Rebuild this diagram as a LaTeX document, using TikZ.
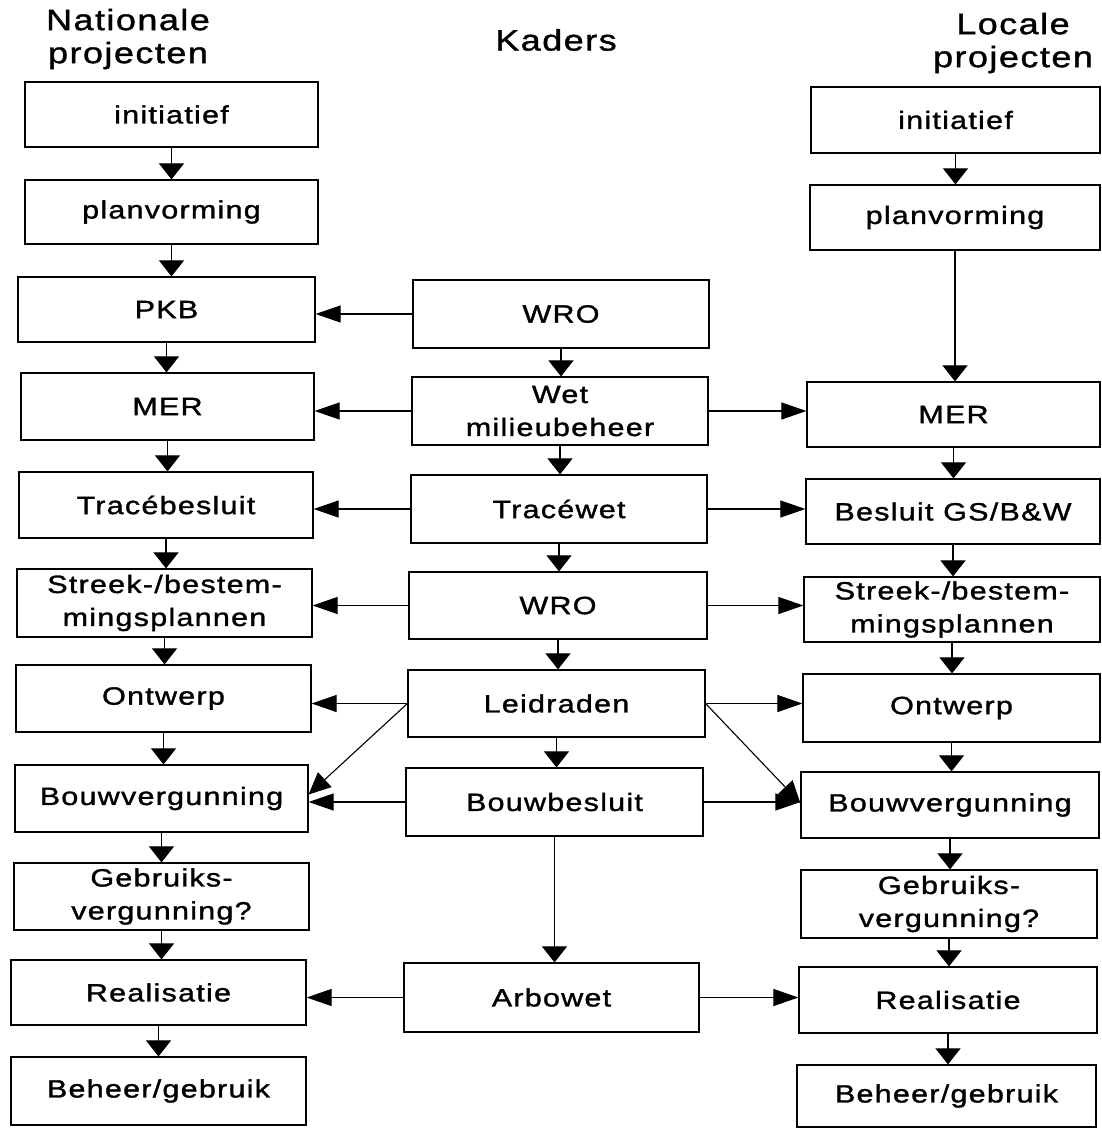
\documentclass[tikz,border=0pt]{standalone}
\usepackage{fontspec}
\setmainfont{Liberation Sans}[FakeStretch=1.22, LetterSpace=5, FakeBold=1.3]
\usetikzlibrary{arrows.meta}
\tikzset{
  box/.style={draw, line width=1.2pt, inner sep=2pt, align=center,
    font=\fontsize{25}{33}\selectfont},
  hdr/.style={align=center, inner sep=0pt, font=\fontsize{29.5}{33}\selectfont},
  varr/.style={line width=1.1pt, -{Triangle[length=16pt,width=25pt]}},
  harr/.style={line width=1.1pt, -{Triangle[length=25pt,width=17pt]}},
  darr/.style={line width=1.1pt, -{Triangle[length=22pt,width=20pt]}}
}
\newcommand\mybox[6]{\node[box, minimum width={#4-#2}, minimum height={#5-#3}] (#1) at ({(#2+#4)/2},{(#3+#5)/2}) {#6};}
\begin{document}
\begin{tikzpicture}[x=1pt,y=-1pt]
\useasboundingbox (0,0) rectangle (1101,1129);
% headers
\node[hdr] (hN) at (128,39) {Nationale\\projecten};
\node[hdr] (hK) at (556,40) {Kaders};
\node[hdr] (hL) at (1013,43) {Locale\\projecten};
% left column
\mybox{Li}{25}{82}{318}{147}{initiatief}
\mybox{Lp}{25}{180}{318}{244}{planvorming}
\mybox{Lpkb}{18}{277}{315}{342}{PKB}
\mybox{Lmer}{21}{373}{314}{440}{MER}
\mybox{Ltr}{19}{472}{313}{538}{Tracébesluit}
\mybox{Lst}{17}{569}{312}{637}{Streek-/bestem-\\mingsplannen}
\mybox{Lont}{16}{665}{311}{732}{Ontwerp}
\mybox{Lbv}{15}{765}{308}{832}{Bouwvergunning}
\mybox{Lgb}{14}{863}{309}{930}{Gebruiks-\\vergunning?}
\mybox{Lre}{11}{960}{306}{1025}{Realisatie}
\mybox{Lbh}{11}{1057}{306}{1125}{Beheer/gebruik}
% middle column
\mybox{Mwro}{413}{280}{709}{348}{WRO}
\mybox{Mwet}{412}{377}{708}{445}{Wet\\milieubeheer}
\mybox{Mtw}{411}{475}{707}{543}{Tracéwet}
\mybox{Mwro2}{409}{572}{707}{639}{WRO}
\mybox{Mld}{408}{670}{705}{737}{Leidraden}
\mybox{Mbb}{406}{768}{703}{836}{Bouwbesluit}
\mybox{Mab}{404}{963}{699}{1032}{Arbowet}
% right column
\mybox{Ri}{811}{87}{1100}{153}{initiatief}
\mybox{Rp}{810}{185}{1100}{250}{planvorming}
\mybox{Rmer}{807}{382}{1100}{447}{MER}
\mybox{Rbs}{806}{479}{1100}{544}{Besluit GS/B\&W}
\mybox{Rst}{804}{577}{1100}{642}{Streek-/bestem-\\mingsplannen}
\mybox{Ront}{803}{674}{1100}{742}{Ontwerp}
\mybox{Rbv}{801}{772}{1099}{838}{Bouwvergunning}
\mybox{Rgb}{801}{870}{1097}{938}{Gebruiks-\\vergunning?}
\mybox{Rre}{799}{967}{1097}{1033}{Realisatie}
\mybox{Rbh}{797}{1065}{1096}{1127}{Beheer/gebruik}
% vertical arrows left
\foreach \a/\b in {Li/Lp, Lp/Lpkb, Lpkb/Lmer, Lmer/Ltr, Ltr/Lst, Lst/Lont, Lont/Lbv, Lbv/Lgb, Lgb/Lre, Lre/Lbh}
  \draw[varr] (\a.south) -- (\a.south |- \b.north);
% vertical arrows middle
\foreach \a/\b in {Mwro/Mwet, Mwet/Mtw, Mtw/Mwro2, Mwro2/Mld, Mld/Mbb, Mbb/Mab}
  \draw[varr] (\a.south) -- (\a.south |- \b.north);
% vertical arrows right
\foreach \a/\b in {Ri/Rp, Rp/Rmer, Rmer/Rbs, Rbs/Rst, Rst/Ront, Ront/Rbv, Rbv/Rgb, Rgb/Rre, Rre/Rbh}
  \draw[varr] (\a.south) -- (\a.south |- \b.north);
% horizontal arrows to the left
\foreach \a/\b in {Mwro/Lpkb, Mwet/Lmer, Mtw/Ltr, Mwro2/Lst, Mld/Lont, Mbb/Lbv, Mab/Lre}
  \draw[harr] (\a.west) -- (\a.west -| \b.east);
% horizontal arrows to the right
\foreach \a/\b in {Mwet/Rmer, Mtw/Rbs, Mwro2/Rst, Mld/Ront, Mbb/Rbv, Mab/Rre}
  \draw[harr] (\a.east) -- (\a.east -| \b.west);
% diagonal arrows
\draw[darr] (Mld.west) -- ([yshift=4pt]Lbv.east);
\draw[darr] (Mld.east) -- ([yshift=2pt]Rbv.west);
\end{tikzpicture}
\end{document}
